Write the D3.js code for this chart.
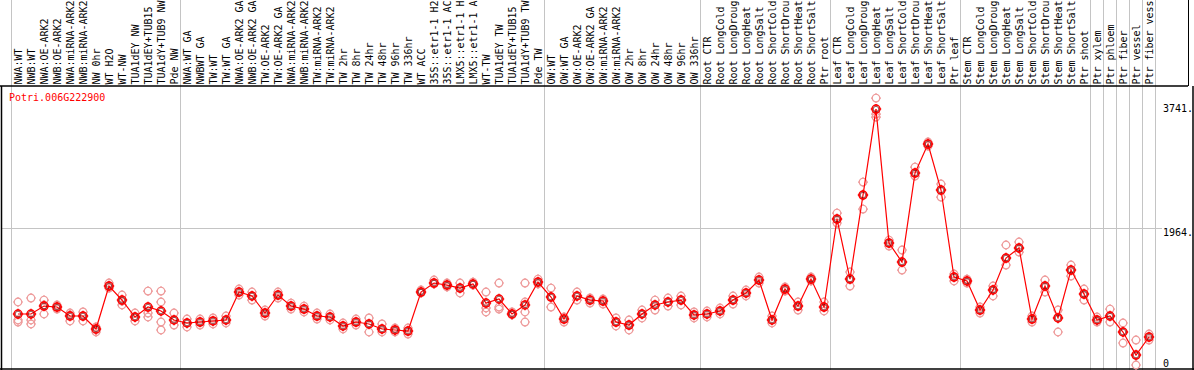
<!DOCTYPE html>
<html>
<head>
<meta charset="utf-8">
<script src="https://cdn.jsdelivr.net/npm/d3@7"></script>
<style>
  body { margin: 0; background: #fff; }
  svg { display: block; }
  text { font-family: "DejaVu Sans Mono", "Liberation Mono", monospace; font-size: 10px; }
</style>
</head>
<body>
<div id="chart"></div>
<script>
const geneName = 'Potri.006G222900';

// sample names as printed in the header (cut to 14 characters)
const samples = [
  'NWA:WT', 'NWB:WT', 'NWA:OE-ARK2', 'NWB:OE-ARK2', 'NWA:miRNA-ARK2', 'NWB:miRNA-ARK2',
  'NW 0hr', 'WT H2O', 'WT-NW', 'TUA1dEY NW', 'TUA1dEY+TUB15', 'TUA1dY+TUB9 NW', 'Pde NW',
  'NWA:WT GA', 'NWBWT GA', 'TW:WT', 'TW:WT GA', 'NWA:OE-ARK2 GA', 'NWB:OE-ARK2 GA',
  'TW:OE-ARK2', 'TW:OE-ARK2 GA', 'NWA:miRNA-ARK2', 'NWB:miRNA-ARK2', 'TW:miRNA-ARK2',
  'TW:miRNA-ARK2', 'TW 2hr', 'TW 8hr', 'TW 24hr', 'TW 48hr', 'TW 96hr', 'TW 336hr',
  'WT ACC', '35S::etr1-1 H2', '35S::etr1-1 AC', 'LMX5::etr1-1 H', 'LMX5::etr1-1 A',
  'WT-TW', 'TUA1dEY TW', 'TUA1dEY+TUB15', 'TUA1dY+TUB9 TW', 'Pde TW',
  'OW:WT', 'OW:WT GA', 'OW:OE-ARK2', 'OW:OE-ARK2 GA', 'OW:miRNA-ARK2', 'OW:miRNA-ARK2',
  'OW 2hr', 'OW 8hr', 'OW 24hr', 'OW 48hr', 'OW 96hr', 'OW 336hr',
  'Root CTR', 'Root LongCold', 'Root LongDroug', 'Root LongHeat', 'Root LongSalt',
  'Root ShortCold', 'Root ShortDrou', 'Root ShortHeat', 'Root ShortSalt', 'Ptr root',
  'Leaf CTR', 'Leaf LongCold', 'Leaf LongDroug', 'Leaf LongHeat', 'Leaf LongSalt',
  'Leaf ShortCold', 'Leaf ShortDrou', 'Leaf ShortHeat', 'Leaf ShortSalt', 'Ptr leaf',
  'Stem CTR', 'Stem LongCold', 'Stem LongDroug', 'Stem LongHeat', 'Stem LongSalt',
  'Stem ShortCold', 'Stem ShortDrou', 'Stem ShortHeat', 'Stem ShortSalt', 'Ptr shoot',
  'Ptr xylem', 'Ptr phloem', 'Ptr fiber', 'Ptr vessel', 'Ptr fiber vess'
];

// first sample of each block (last entry = end)
const groupStarts = [0, 13, 41, 53, 63, 73, 83, 84, 85, 86, 87, 88];

const means = [
  731, 731, 845, 831, 702, 702, 516, 1132, 931, 688, 831, 774, 645,
  602, 616, 631, 645, 1046, 989, 745, 1003, 845, 802, 702, 688, 559, 616, 588, 516, 502, 487,
  1046, 1175, 1146, 1103, 1161, 888, 946, 731, 860, 1189,
  974, 659, 989, 931, 917, 616, 573, 731, 860, 903, 931, 717,
  731, 774, 931, 1032, 1218, 645, 1089, 845, 1232, 831,
  2092, 1232, 2436, 3668, 1748, 1476, 2751, 3167, 2508, 1261,
  1204, 788, 1075, 1533, 1677, 659, 1132, 674, 1361, 1017,
  645, 702, 473, 143, 401
];

const replicates = [
  [903, 645, 616], [960, 645, 588], [931, 860, 731], [860, 831, 802], [745, 717, 631],
  [760, 702, 631], [545, 502, 473], [1175, 1132, 1103], [1003, 917, 860], [745, 688, 631],
  [1060, 745, 688], [1060, 903, 616, 502], [745, 645, 573],
  [659, 602, 545], [659, 616, 573], [674, 631, 588], [702, 645, 602], [1089, 1046, 1003],
  [1046, 989, 931], [788, 745, 702], [1046, 1003, 960], [888, 845, 802], [845, 802, 760],
  [745, 702, 659], [731, 688, 645], [602, 559, 516], [659, 616, 573], [674, 588, 473],
  [588, 516, 473], [530, 502, 473], [530, 487, 444],
  [1075, 1046, 1032], [1218, 1175, 1161], [1175, 1146, 1118], [1175, 1103, 1032],
  [1189, 1161, 1146], [1046, 817, 760], [1175, 831, 802], [760, 731, 717],
  [1175, 903, 760, 616], [1232, 1189, 1161],
  [1103, 974, 831], [688, 659, 616], [1046, 989, 931], [960, 931, 888], [946, 917, 874],
  [674, 616, 559], [645, 573, 502], [788, 731, 674], [931, 860, 788], [960, 903, 845],
  [989, 931, 860], [760, 717, 674],
  [774, 731, 688], [817, 774, 731], [989, 931, 874], [1075, 1032, 989], [1261, 1218, 1175],
  [702, 645, 602], [1118, 1089, 1060], [903, 845, 788], [1261, 1232, 1204], [903, 831, 774],
  [2178, 2092, 2035], [1333, 1232, 1132], [2622, 2436, 2235], [3826, 3597, 3554],
  [1791, 1748, 1705], [1648, 1476, 1361], [2837, 2751, 2708], [3196, 3167, 3138],
  [2594, 2508, 2407], [1304, 1261, 1204],
  [1232, 1204, 1175], [831, 788, 745], [1132, 1075, 989], [1720, 1533, 1433],
  [1763, 1677, 1619], [702, 659, 616], [1218, 1132, 1046], [788, 674, 473],
  [1433, 1361, 1275], [1089, 1017, 931],
  [688, 645, 616], [802, 702, 616], [602, 473, 315], [358, 143, 0], [444, 401, 358]
];

const yTicks = [3741, 1964, 0];
const yTickLabels = ['3741.', '1964.', '0'];
const gridValue = 1964;

const W = 1194, H = 370;
const headerBottom = 86;
const plotLeft = 11.5, plotRight = 1155.5;

const svg = d3.select('#chart').append('svg')
  .attr('width', W)
  .attr('height', H);

const x = d3.scaleBand()
  .domain(d3.range(samples.length))
  .range([plotLeft, plotRight]);

const y = d3.scaleLinear()
  .domain([0, 3741])
  .range([365, 104]);

const cx = i => x(i) + x.bandwidth() / 2;

// group separators (full height)
svg.append('g')
  .selectAll('line')
  .data(groupStarts)
  .join('line')
  .attr('x1', i => i < samples.length ? x(i) : plotRight)
  .attr('x2', i => i < samples.length ? x(i) : plotRight)
  .attr('y1', 0)
  .attr('y2', H)
  .attr('stroke', '#c4c4c4')
  .attr('stroke-width', 1);

// horizontal grid
svg.append('line')
  .attr('x1', 2).attr('x2', 1162)
  .attr('y1', Math.round(y(gridValue)) + 0.5)
  .attr('y2', Math.round(y(gridValue)) + 0.5)
  .attr('stroke', '#c4c4c4');

// header labels
svg.append('g')
  .selectAll('text')
  .data(samples)
  .join('text')
  .attr('transform', (d, i) => `translate(${cx(i) + 3.5},${headerBottom - 1.5}) rotate(-90)`)
  .attr('fill', '#000')
  .attr('textLength', d => d.length * 6)
  .text(d => d);

// frame lines
svg.append('line')
  .attr('x1', 0).attr('x2', 1188)
  .attr('y1', headerBottom).attr('y2', headerBottom)
  .attr('stroke', '#000').attr('stroke-width', 1.5);
svg.append('line')
  .attr('x1', 1188.5).attr('x2', 1188.5)
  .attr('y1', 0).attr('y2', headerBottom)
  .attr('stroke', '#000');
svg.append('line')
  .attr('x1', 1.5).attr('x2', 1.5)
  .attr('y1', headerBottom).attr('y2', H)
  .attr('stroke', '#000').attr('stroke-width', 1.5);
svg.append('line')
  .attr('x1', 1193).attr('x2', 1193)
  .attr('y1', headerBottom).attr('y2', H)
  .attr('stroke', '#000').attr('stroke-width', 1.5);
svg.append('line')
  .attr('x1', 0).attr('x2', W)
  .attr('y1', 369).attr('y2', 369)
  .attr('stroke', '#000').attr('stroke-width', 1.5);

// gene title
svg.append('text')
  .attr('x', 9)
  .attr('y', 101)
  .attr('fill', '#ff0000')
  .text(geneName);

// y axis on the right
const yAxis = svg.append('g')
  .attr('transform', 'translate(1162,0)')
  .call(d3.axisRight(y).tickValues(yTicks).tickSize(0).tickPadding(1)
    .tickFormat((d, i) => yTickLabels[i]));
yAxis.select('.domain').remove();
yAxis.selectAll('text')
  .attr('font-family', '"DejaVu Sans Mono", monospace')
  .attr('font-size', 10)
  .attr('fill', '#000')
  .attr('dy', d => d === 0 ? '0.1em' : '0.78em');

// replicate markers
const repPts = [];
replicates.forEach((reps, i) => reps.forEach(v => repPts.push({ i, v })));

function marker(g, color, r, w) {
  g.append('circle').attr('r', r).attr('fill', 'none').attr('stroke', color).attr('stroke-width', w);
  g.append('path')
    .attr('d', `M0,${-r - 1.2}V${-r + 0.5}M0,${r - 0.5}V${r + 1.2}M${-r - 1.2},0H${-r + 0.5}M${r - 0.5},0H${r + 1.2}`)
    .attr('stroke', color).attr('stroke-width', w);
}

svg.append('g')
  .selectAll('g')
  .data(repPts)
  .join('g')
  .attr('transform', d => `translate(${cx(d.i)},${y(d.v)})`)
  .each(function () { marker(d3.select(this), '#ee9a9a', 3.8, 1.2); });

// mean line
const line = d3.line()
  .x((d, i) => cx(i))
  .y(d => y(d));

svg.append('path')
  .datum(means)
  .attr('d', line)
  .attr('fill', 'none')
  .attr('stroke', '#ff0000')
  .attr('stroke-width', 1.2);

// mean markers
svg.append('g')
  .selectAll('g')
  .data(means)
  .join('g')
  .attr('transform', (d, i) => `translate(${cx(i)},${y(d)})`)
  .each(function () {
    const g = d3.select(this);
    marker(g, '#ff0000', 4, 1.5);
    g.append('circle').attr('r', 2.8).attr('fill', 'none').attr('stroke', '#700000').attr('stroke-width', 0.7);
  });
</script>
</body>
</html>
